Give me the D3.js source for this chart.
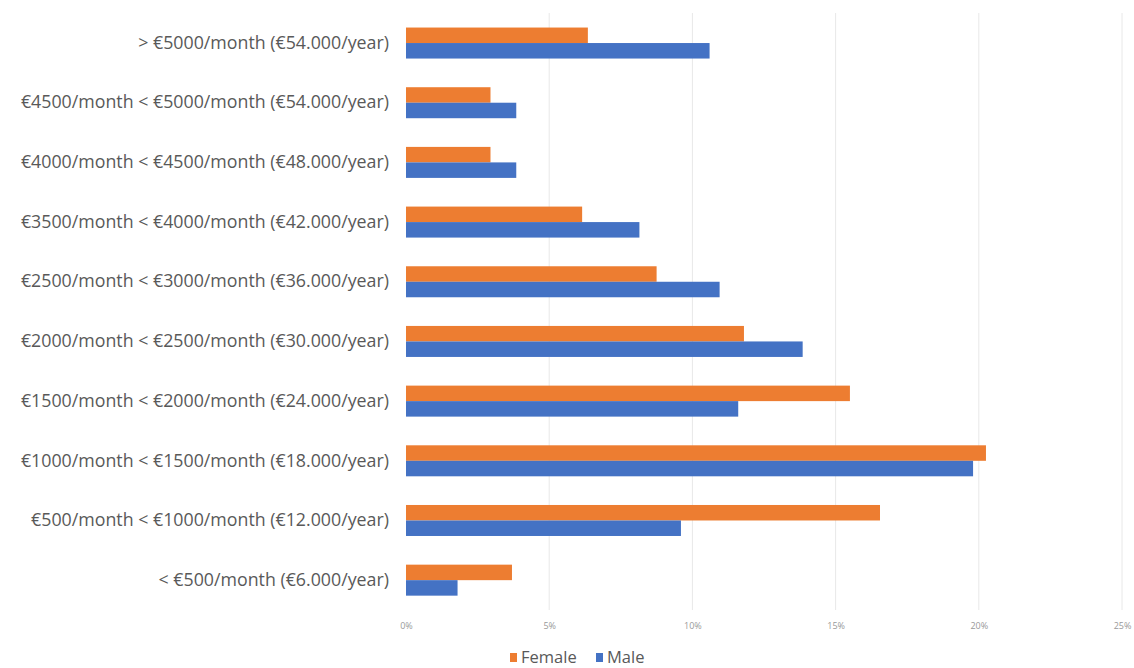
<!DOCTYPE html>
<html>
<head>
<meta charset="utf-8">
<script src="https://cdn.jsdelivr.net/npm/d3@7"></script>
<style>
  html, body { margin: 0; padding: 0; background: #fff; }
  svg { display: block; }
</style>
</head>
<body>
<svg id="chart" width="1134" height="668"></svg>
<script>
// Income brackets, listed top to bottom
const categories = [
  "> €5000/month (€54.000/year)",
  "€4500/month < €5000/month (€54.000/year)",
  "€4000/month < €4500/month (€48.000/year)",
  "€3500/month < €4000/month (€42.000/year)",
  "€2500/month < €3000/month (€36.000/year)",
  "€2000/month < €2500/month (€30.000/year)",
  "€1500/month < €2000/month (€24.000/year)",
  "€1000/month < €1500/month (€18.000/year)",
  "€500/month < €1000/month (€12.000/year)",
  "< €500/month (€6.000/year)"
];
// Share of respondents (%)
const female = [6.35, 2.95, 2.95, 6.15, 8.75, 11.8, 15.5, 20.25, 16.55, 3.7];
const male   = [10.6, 3.85, 3.85, 8.15, 10.95, 13.85, 11.6, 19.8, 9.6, 1.8];
const seriesNames = ["Female", "Male"];
const seriesColors = ["#ED7D31", "#4472C4"];
const xTicks = [0, 5, 10, 15, 20, 25];

const font = "'Open Sans', 'Noto Sans', sans-serif";
const svg = d3.select("#chart");
const x = d3.scaleLinear().domain([0, 25]).range([406, 1122]);
const y = d3.scaleBand().domain(categories).range([13.2, 610]).padding(0);
const barH = 15.5;
const sub = d3.scaleBand().domain(seriesNames)
  .range([(y.bandwidth() - 2 * barH) / 2, (y.bandwidth() + 2 * barH) / 2]);

// vertical gridlines
svg.append("g")
  .selectAll("line")
  .data(xTicks.slice(1))
  .join("line")
  .attr("x1", d => x(d)).attr("x2", d => x(d))
  .attr("y1", 13).attr("y2", 610)
  .attr("stroke", "#e8e8e8").attr("stroke-width", 1);

// x axis labels
const xAxis = d3.axisBottom(x).tickValues(xTicks).tickFormat(d => d + "%").tickSize(0);
const xg = svg.append("g").attr("transform", "translate(0,620)").call(xAxis);
xg.select(".domain").remove();
xg.selectAll("text").attr("fill", "#999").attr("font-size", 9)
  .attr("font-family", font);

// y axis labels
const yAxis = d3.axisLeft(y).tickSize(0).tickPadding(0);
const yg = svg.append("g").attr("transform", "translate(389,0)").call(yAxis);
yg.select(".domain").remove();
yg.selectAll("text").attr("fill", "#595959").attr("font-size", 17.8)
  .attr("font-family", font);

// bars
const rows = categories.map((c, i) => ({ c, vals: [female[i], male[i]] }));
const grp = svg.append("g").selectAll("g").data(rows).join("g")
  .attr("transform", d => `translate(0,${y(d.c)})`);
grp.selectAll("rect")
  .data(d => d.vals.map((v, k) => ({ v, k })))
  .join("rect")
  .attr("x", x(0))
  .attr("y", d => sub(seriesNames[d.k]))
  .attr("width", d => x(d.v) - x(0))
  .attr("height", sub.bandwidth())
  .attr("fill", d => seriesColors[d.k]);

// legend
const legend = svg.append("g").attr("transform", "translate(510,657)");
const items = [{ name: "Female", x: 0 }, { name: "Male", x: 86 }];
items.forEach((it, k) => {
  const g = legend.append("g").attr("transform", `translate(${it.x},0)`);
  g.append("rect").attr("x", 0).attr("y", -4).attr("width", 7).attr("height", 9)
    .attr("fill", seriesColors[k]);
  g.append("text").attr("x", 11).attr("y", 0).attr("dy", "0.35em")
    .attr("fill", "#595959").attr("font-size", 16.5)
    .attr("font-family", font)
    .text(it.name);
});
</script>
</body>
</html>
